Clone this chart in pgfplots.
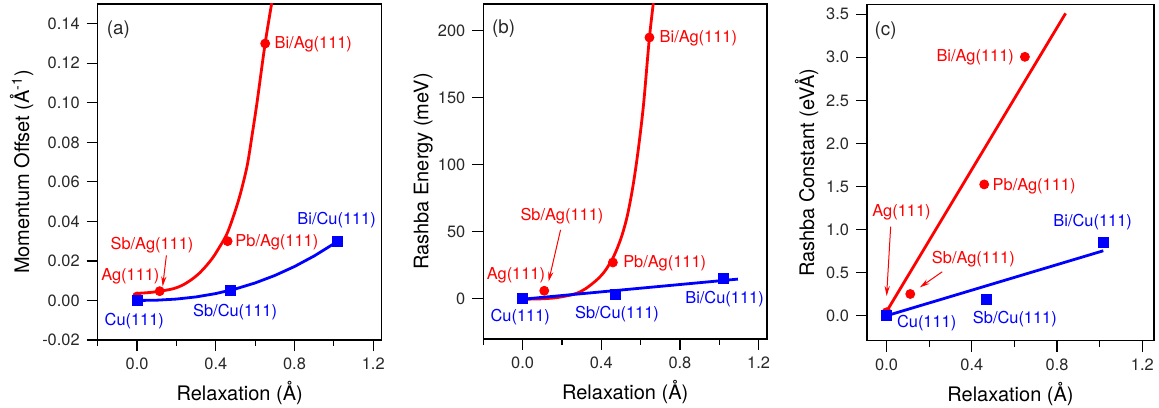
\documentclass[border=0pt]{standalone}
\usepackage{fontspec}
\setmainfont{TeX Gyre Heros}
\usepackage{pgfplots}
\pgfplotsset{compat=1.18}
\usetikzlibrary{arrows.meta}
\definecolor{pred}{RGB}{255,0,0}
\definecolor{pblue}{RGB}{0,0,255}
\definecolor{txt}{RGB}{40,40,40}

\tikzset{
  lab/.style={font=\fontsize{8.2}{10}\selectfont, inner sep=0pt},
  rl/.style={lab, text=pred},
  bl/.style={lab, text=pblue},
  tag/.style={font=\fontsize{9.4}{11}\selectfont, inner sep=0pt, text=txt},
  arr/.style={draw=pred, line width=0.5pt, -{Stealth[length=5pt,width=2.6pt]}},
}
\pgfplotsset{
  panel/.style={
    scale only axis, anchor=south west,
    axis line style={line width=0.6pt},
    tick align=outside, xtick pos=bottom, ytick pos=left,
    major tick length=5.5pt, minor tick length=3pt,
    tick style={black, line width=0.6pt},
    xtick={0,0.4,0.8,1.2},
    xmin=-0.2, xmax=1.243,
    /pgf/number format/assume math mode=true,
    tick label style={font=\fontsize{8.2}{10}\selectfont, text=txt},
    label style={font=\fontsize{8.2}{10}\selectfont, text=txt},
    xticklabel style={/pgf/number format/fixed, /pgf/number format/precision=1, /pgf/number format/fixed zerofill},
    xlabel={Relaxation (Å)},
    every axis x label/.style={at={(axis description cs:0.5,-0.159)}, anchor=center},
    clip=true,
  },
  rdot/.style={only marks, mark=*, mark size=2.25pt, color=pred},
  bsq/.style={only marks, mark=square*, mark size=2.5pt, color=pblue},
  rcurve/.style={no marks, color=pred, line width=1.4pt},
  bcurve/.style={no marks, color=pblue, line width=1.4pt},
}

\begin{document}
\begin{tikzpicture}
\useasboundingbox (0,0) rectangle (579.5pt,203.5pt);

% (a) momentum offset
\begin{axis}[panel, at={(48.85pt,33.5pt)}, width=142pt, height=168pt,
  minor xtick={-0.2,0.2,0.6,1.0},
  ymin=-0.02, ymax=0.15, ytick={-0.02,0,0.02,0.04,0.06,0.08,0.10,0.12,0.14},
  scaled y ticks=false,
  yticklabel style={/pgf/number format/fixed, /pgf/number format/precision=2, /pgf/number format/fixed zerofill},
  ylabel={Momentum Offset (Å\textsuperscript{-1})},
  every axis y label/.style={at={(axis description cs:-0.268,0.5)}, rotate=90, anchor=center}]
\addplot[rcurve, smooth] coordinates {
  (0,0.0036) (0.06,0.0040) (0.118,0.0047) (0.186,0.0060) (0.23,0.0077)
  (0.27,0.0101) (0.31,0.0132) (0.346,0.0169) (0.38,0.0210) (0.409,0.0254)
  (0.46,0.0345) (0.515,0.0505) (0.558,0.0675) (0.585,0.0840) (0.61,0.1005)
  (0.651,0.1302) (0.69,0.1540) (0.70,0.1600)
};
\addplot[rdot] coordinates {(0,0.002) (0.115,0.0047) (0.46,0.030) (0.651,0.130)};
\addplot[bcurve] coordinates {
  (0,0) (0.1,0.00014) (0.2,0.00071) (0.3,0.0018) (0.4,0.00349) (0.5,0.00583)
  (0.6,0.00887) (0.7,0.01264) (0.8,0.01718) (0.9,0.02252) (1.0,0.0287) (1.02,0.0300)
};
\addplot[bsq] coordinates {(0,0) (0.474,0.005) (1.02,0.030)};
\node[tag] at (axis cs:-0.095,0.137) {(a)};
\node[rl, anchor=west] at (axis cs:0.697,0.1297) {Bi/Ag(111)};
\node[rl, anchor=west] at (axis cs:0.498,0.0294) {Pb/Ag(111)};
\node[rl] at (axis cs:0.076,0.0279) {Sb/Ag(111)};
\node[rl] at (axis cs:-0.034,0.0122) {Ag(111)};
\draw[arr] (axis cs:0.149,0.0228) -- (axis cs:0.130,0.0071);
\node[bl] at (axis cs:-0.014,-0.0105) {Cu(111)};
\node[bl] at (axis cs:0.498,-0.0059) {Sb/Cu(111)};
\node[bl] at (axis cs:1.014,0.0409) {Bi/Cu(111)};
\end{axis}

% (b) Rashba energy
\begin{axis}[panel, at={(241.65pt,34pt)}, width=141.85pt, height=167.5pt,
  minor xtick={-0.2,0.2,0.6,1.0},
  ymin=-30, ymax=220, ytick={0,50,100,150,200},
  ylabel={Rashba Energy (meV)},
  every axis y label/.style={at={(axis description cs:-0.2115,0.5)}, rotate=90, anchor=center}]
\addplot[rcurve, smooth] coordinates {
  (0,-0.3) (0.05,-0.2) (0.1,0) (0.158,0.6) (0.2,1.5) (0.25,3.0) (0.277,4.2)
  (0.32,7.5) (0.378,14.2) (0.42,21) (0.463,31.6) (0.5,45) (0.531,61)
  (0.56,83) (0.587,110) (0.615,145) (0.645,195) (0.674,232)
};
\addplot[rdot] coordinates {(0,0) (0.110,6.0) (0.459,27.1) (0.645,195)};
\addplot[bcurve] coordinates {(0,-0.3) (1.095,14.7)};
\addplot[bsq] coordinates {(0,0) (0.470,3.0) (1.019,15.4)};
\node[tag] at (axis cs:-0.097,201.3) {(b)};
\node[rl, anchor=west] at (axis cs:0.695,194.5) {Bi/Ag(111)};
\node[rl, anchor=west] at (axis cs:0.510,26.6) {Pb/Ag(111)};
\node[rl] at (axis cs:0.200,61.4) {Sb/Ag(111)};
\draw[arr] (axis cs:0.193,51.5) -- (axis cs:0.132,12.9);
\node[rl] at (axis cs:-0.034,17.4) {Ag(111)};
\node[bl] at (axis cs:-0.012,-13.9) {Cu(111)};
\node[bl] at (axis cs:0.480,-11.2) {Sb/Cu(111)};
\node[bl] at (axis cs:1.027,-0.2) {Bi/Cu(111)};
\end{axis}

% (c) Rashba constant
\begin{axis}[panel, at={(433.5pt,33.15pt)}, width=143.5pt, height=168pt,
  xmin=-0.092, xmax=1.255, minor xtick={0.2,0.6,1.0},
  ymin=-0.29, ymax=3.61, ytick={0,0.5,1.0,1.5,2.0,2.5,3.0,3.5},
  yticklabel style={/pgf/number format/fixed, /pgf/number format/precision=1, /pgf/number format/fixed zerofill},
  ylabel={Rashba Constant (eVÅ)},
  every axis y label/.style={at={(axis description cs:-0.210,0.5)}, rotate=90, anchor=center}]
\addplot[rcurve] coordinates {(0,0.05) (0.84,3.51)};
\addplot[rdot] coordinates {(0,0.04) (0.111,0.252) (0.458,1.524) (0.649,3.005)};
\addplot[bcurve] coordinates {(0,0) (1.017,0.754)};
\addplot[bsq] coordinates {(0,0) (0.469,0.194) (1.017,0.847)};
\node[tag] at (axis cs:-0.005,3.314) {(c)};
\node[rl, anchor=east] at (axis cs:0.599,2.998) {Bi/Ag(111)};
\node[rl, anchor=west] at (axis cs:0.496,1.497) {Pb/Ag(111)};
\node[rl] at (axis cs:0.070,1.195) {Ag(111)};
\draw[arr] (axis cs:0.019,1.033) -- (axis cs:0.0,0.229);
\node[rl] at (axis cs:0.407,0.658) {Sb/Ag(111)};
\draw[arr] (axis cs:0.261,0.510) -- (axis cs:0.156,0.329);
\node[bl] at (axis cs:0.188,-0.089) {Cu(111)};
\node[bl] at (axis cs:0.602,-0.038) {Sb/Cu(111)};
\node[bl] at (axis cs:0.967,1.09) {Bi/Cu(111)};
\end{axis}
\end{tikzpicture}
\end{document}
